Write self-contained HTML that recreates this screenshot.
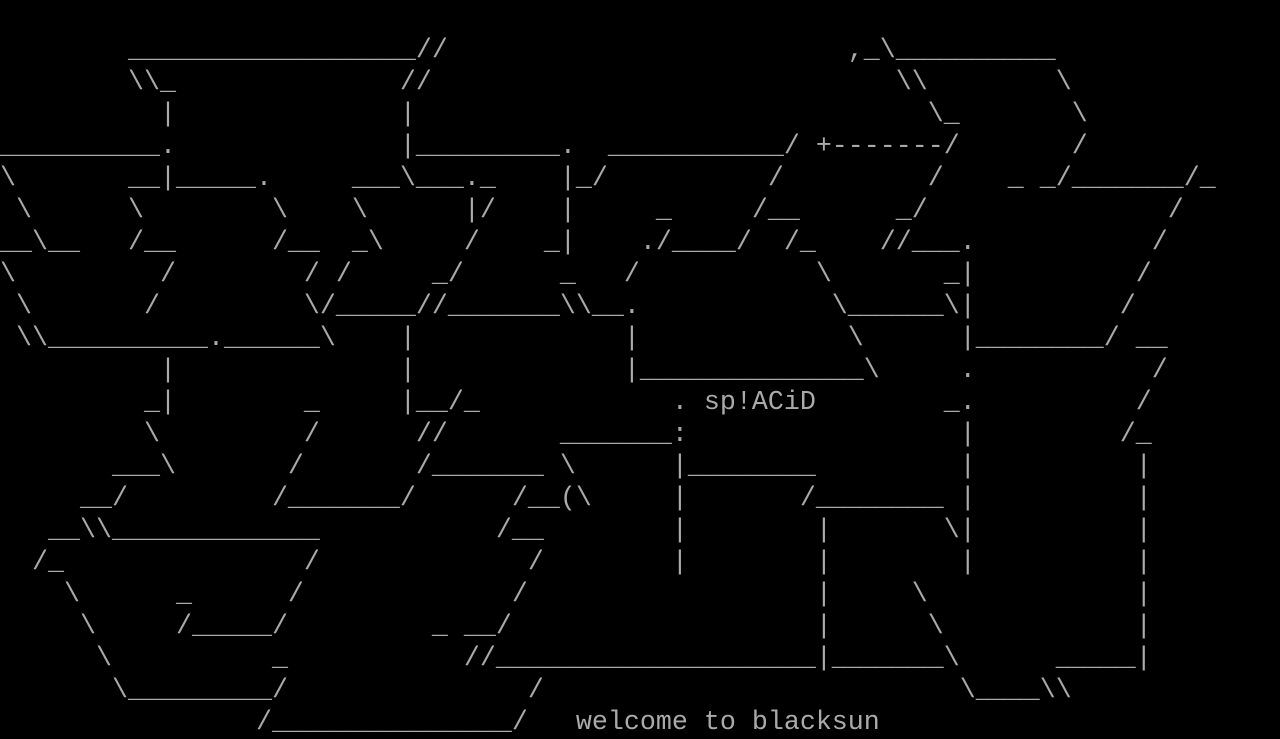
<!DOCTYPE html>
<html><head><meta charset="utf-8"><style>
html,body{margin:0;padding:0;background:#000;width:1280px;height:736px;overflow:hidden}
pre{position:absolute;left:0;top:35px;margin:0;font-family:"Liberation Mono","DejaVu Sans Mono",monospace;font-size:26.667px;line-height:32px;color:#aaa;white-space:pre}
</style></head><body><pre>
        __________________//                         ,_\__________
        \\_              //                             \\        \
          |              |                                \_       \
__________.              |_________.  ___________/ +-------/       /
\       __|_____.     ___\___._    |_/          /         /    _ _/_______/_
 \      \        \    \      |/    |     _     /__      _/               /
__\__   /__      /__  _\     /    _|    ./____/  /_    //___.           /
\         /        / /     _/      _   /           \       _|          /
 \       /         \/_____//_______\\__.            \______\|         /
 \\__________.______\    |             |             \      |________/ __
          |              |             |______________\     .           /
         _|        _     |__/_            . sp!ACiD        _.          /
         \         /      //       _______:                 |         /_
       ___\       /       /_______ \      |________         |          |
     __/         /_______/      /__(\     |       /________ |          |
   __\\_____________           /__        |        |       \|          |
  /_               /             /        |        |        |          |
    \      _      /             /                  |     \             |
     \     /_____/         _ __/                   |      \            |
      \          _           //____________________|_______\      _____|
       \_________/               /                          \____\\
                /_______________/   welcome to blacksun</pre>
</body></html>
